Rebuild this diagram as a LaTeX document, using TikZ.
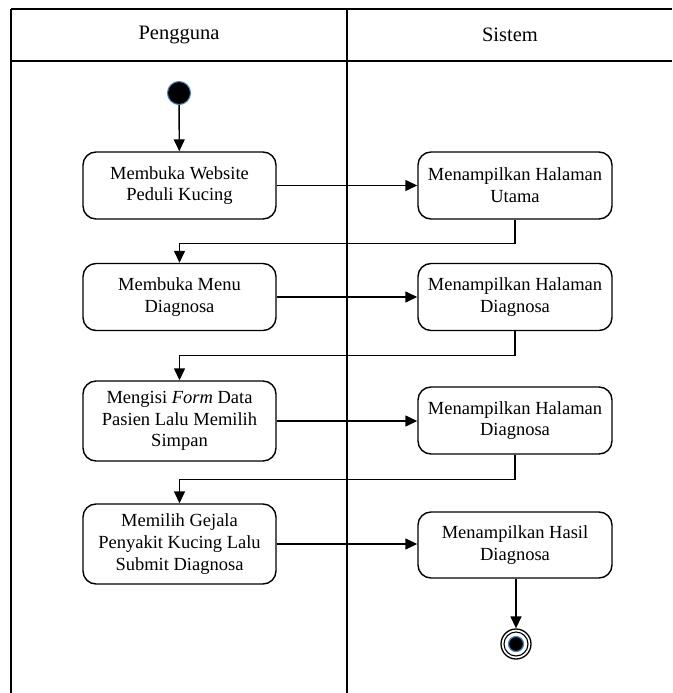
\documentclass[tikz,border=0pt]{standalone}
\usepackage{fontspec}
\setmainfont{Liberation Serif}
\usetikzlibrary{arrows.meta}
\definecolor{rim}{RGB}{70,130,200}
\begin{document}
\begin{tikzpicture}[x=1pt,y=-1pt,
  lane/.style={line width=1.6pt},
  lanehead/.style={font=\fontsize{20.5}{24}\selectfont},
  act/.style={draw, line width=1.4pt, rounded corners=13pt,
    minimum width=193pt, minimum height=67pt, align=center,
    inner sep=0pt, font=\fontsize{18.5}{21.7}\selectfont},
  tall/.style={minimum height=80pt},
  flow/.style={line width=1.4pt, -{Triangle[length=12pt,width=11pt]}},
  startdot/.style={circle, fill=black, draw=rim, line width=1pt,
    minimum size=23pt, inner sep=0pt},
  endring/.style={circle, draw, line width=1.3pt, minimum size=30pt, inner sep=0pt},
  enddot/.style={circle, fill=black, draw=rim, line width=1.2pt,
    minimum size=15pt, inner sep=0pt}
]
\useasboundingbox (0,0) rectangle (672,693);

% swimlane frame
\coordinate (tl) at (11,9);
\coordinate (tr) at (672,9);
\coordinate (hl) at (11,61);
\coordinate (hr) at (672,61);
\coordinate (bl) at (11,693);
\coordinate (dt) at (347,9);
\coordinate (db) at (347,693);
\draw[lane] (tl) -- (tr);
\draw[lane] (hl) -- (hr);
\draw[lane] (tl) -- (bl);
\draw[lane] (dt) -- (db);
\node[lanehead] (hPengguna) at (179,35) {Pengguna};
\node[lanehead] (hSistem) at (510,35) {Sistem};

% start and end
\node[startdot] (start) at (179,93) {};
\node[endring] (end) at (516,644) {};
\node[circle, draw, line width=1.1pt, minimum size=24pt, inner sep=0pt] (endinner) at (end) {};
\node[enddot] (endcore) at (end) {};

% activities: user lane
\node[act] (L1) at (179.5,185.5) {Membuka Website\\Peduli Kucing};
\node[act] (L2) at (179.5,297) {Membuka Menu\\Diagnosa};
\node[act,tall] (L3) at (179.5,421) {Mengisi \textit{Form} Data\\Pasien Lalu Memilih\\Simpan};
\node[act,tall] (L4) at (179.5,544) {Memilih Gejala\\Penyakit Kucing Lalu\\Submit Diagnosa};

% activities: system lane
\node[act,minimum width=194pt] (R1) at (515,185.5) {Menampilkan Halaman\\Utama};
\node[act,minimum width=194pt] (R2) at (515,297) {Menampilkan Halaman\\Diagnosa};
\node[act,minimum width=194pt] (R3) at (515,420.5) {Menampilkan Halaman\\Diagnosa};
\node[act,minimum width=194pt,minimum height=66pt] (R4) at (515,545) {Menampilkan Hasil\\Diagnosa};

% control flow
\draw[flow] (start) -- (L1);
\draw[flow] (L1.east) -- (L1.east -| R1.west);
\draw[flow] (R1.south) -- ++(0,24) -| (L2.north);
\draw[flow] (L2.east) -- (L2.east -| R2.west);
\draw[flow] (R2.south) -- ++(0,24) -| (L3.north);
\draw[flow] (L3.east) -- (L3.east -| R3.west);
\draw[flow] (R3.south) -- ++(0,25) -| (L4.north);
\draw[flow] (L4.east) -- (L4.east -| R4.west);
\draw[flow] (R4.south -| end) -- (end.north);
\end{tikzpicture}
\end{document}
